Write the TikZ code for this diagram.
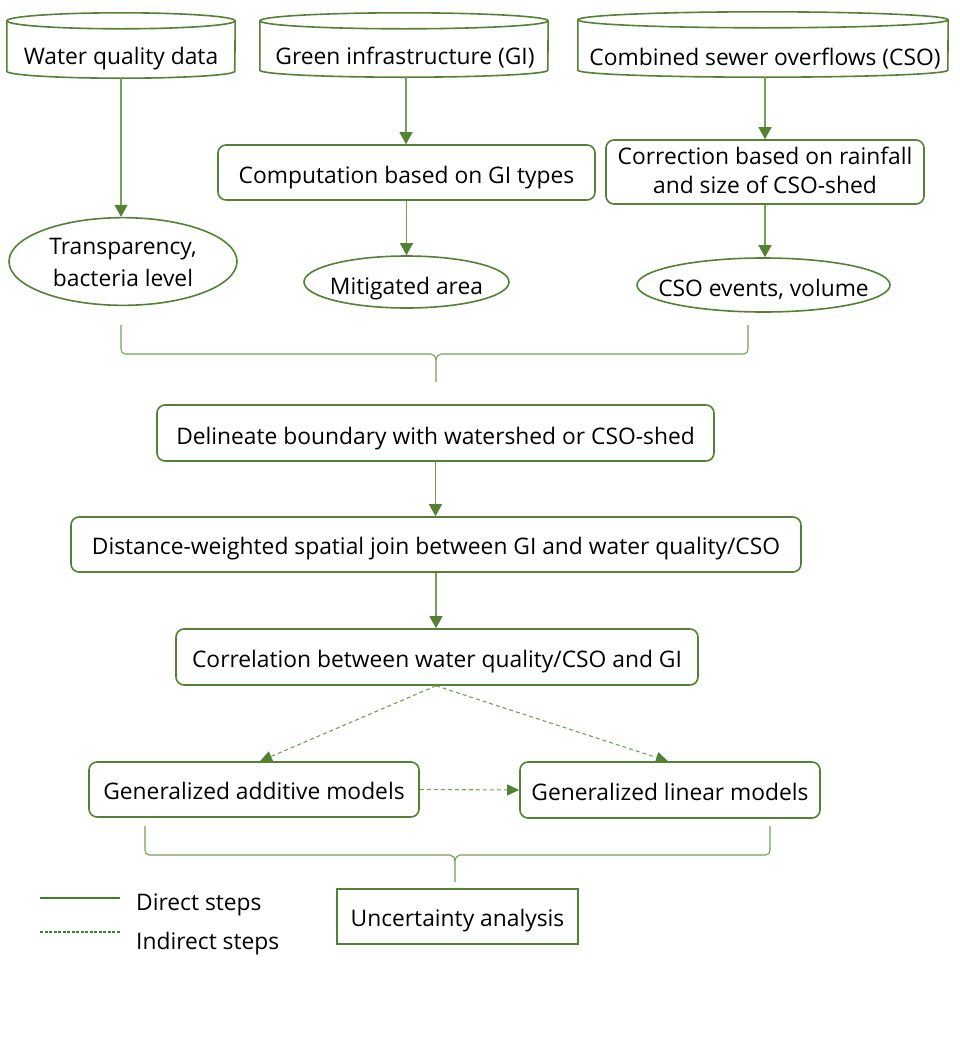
\documentclass[tikz,border=0pt]{standalone}
\usepackage{fontspec}
\setmainfont{Open Sans}
\usetikzlibrary{arrows.meta,shapes.geometric}
\definecolor{boxgreen}{RGB}{84,130,53}
\definecolor{linegreen}{RGB}{118,160,88}
\definecolor{leggreen}{RGB}{60,130,40}
\tikzset{
  txt/.style={font=\fontsize{22.8}{30}\selectfont, text=black, inner sep=0pt},
  rbox/.style={txt, draw=boxgreen, line width=1.6pt, rounded corners=8pt},
  sbox/.style={txt, draw=boxgreen, line width=1.6pt},
  ebox/.style={txt, draw=boxgreen, line width=1.6pt, ellipse},
  cylline/.style={draw=boxgreen, line width=1.6pt},
  conn/.style={draw=linegreen, line width=1.1pt, -{Triangle[width=13pt,length=12pt,color=boxgreen]}},
  dconn/.style={draw=linegreen, line width=1.1pt, dash pattern=on 4pt off 3pt, -{Triangle[width=11pt,length=12pt,color=boxgreen]}},
  brace/.style={draw=linegreen, line width=1.1pt},
}
\newcommand\tx[2][-4pt]{\raisebox{#1}[\height][\depth]{\begin{tabular}{@{}c@{}}#2\end{tabular}}}
\newcommand\cylshape[2]{%
  \draw[cylline] ([yshift=-8pt]#1.north west) -- ([yshift=7pt]#1.south west)
     arc[start angle=180, end angle=360, x radius=#2, y radius=7pt] -- ([yshift=-8pt]#1.north east);
  \draw[cylline] ([yshift=-8pt]#1.north) ellipse[x radius=#2, y radius=8pt];
}
\begin{document}
\begin{tikzpicture}[x=1pt,y=1pt]
\useasboundingbox (0,0) rectangle (960,-1050);
\fill[white] (0,0) rectangle (960,-1050);

% cylinders
\node[minimum width=228pt, minimum height=65pt, inner sep=0pt] (wq) at (121,-45.5) {};
\node[txt] (wqt) at (121,-55) {\tx[-3pt]{Water quality data}};
\cylshape{wq}{114pt}
\node[minimum width=288pt, minimum height=64pt, inner sep=0pt] (gi) at (404,-45) {};
\node[txt] (git) at (405,-55) {\tx[-3pt]{Green infrastructure (GI)}};
\cylshape{gi}{144pt}
\node[minimum width=370pt, minimum height=65pt, inner sep=0pt] (cso) at (763,-44.5) {};
\node[txt] (csot) at (765,-56) {\tx[-3pt]{Combined sewer overflows (CSO)}};
\cylshape{cso}{185pt}

% second row
\node[rbox, minimum width=377pt, minimum height=55pt] (comp) at (406.5,-172.5) {\tx[-5pt]{Computation based on GI types}};
\node[rbox, minimum width=318pt, minimum height=64pt] (corr) at (765,-172) {\tx[-1pt]{Correction based on rainfall\\[-1pt]and size of CSO-shed}};

% ellipses
\node[ebox, minimum width=228pt, minimum height=87pt] (tr) at (123,-261.5) {\makebox[0pt]{\tx[-3pt]{Transparency,\\[2pt]bacteria level}}};
\node[ebox, minimum width=205pt, minimum height=52pt] (mit) at (406.5,-282) {\makebox[0pt]{\tx[-6pt]{Mitigated area}}};
\node[ebox, minimum width=253pt, minimum height=54pt] (ev) at (763.5,-285) {\makebox[0pt]{\tx[-5pt]{CSO events, volume}}};

% main chain
\node[rbox, minimum width=557pt, minimum height=56pt] (del) at (435.5,-433) {\tx[-5pt]{Delineate boundary with watershed or CSO-shed}};
\node[rbox, minimum width=730pt, minimum height=55pt] (dist) at (436,-544.5) {\tx{Distance-weighted spatial join between GI and water quality/CSO}};
\node[rbox, minimum width=522pt, minimum height=56pt] (cor) at (437,-657) {\tx{Correlation between water quality/CSO and GI}};
\node[rbox, minimum width=330pt, minimum height=55pt] (gam) at (254,-789.5) {\tx{Generalized additive models}};
\node[rbox, minimum width=300pt, minimum height=56pt] (glm) at (670,-790) {\tx{Generalized linear models}};
\node[sbox, minimum width=241pt, minimum height=55pt] (unc) at (457.5,-916.5) {\tx{Uncertainty analysis}};

% connectors
\draw[conn] (wq.south) -- (wq.south |- tr.north);
\draw[conn] ([xshift=2pt]gi.south) -- ([xshift=2pt]gi.south |- comp.north);
\draw[conn] (comp.south) -- (mit.north);
\draw[conn] ([xshift=2pt]cso.south) -- ([xshift=2pt]cso.south |- corr.north);
\draw[conn] (corr.south) -- (corr.south |- ev.north);
\draw[conn] (del.south) -- (del.south |- dist.north);
\draw[conn] (dist.south) -- (dist.south |- cor.north);
\draw[dconn] ([xshift=-1pt]cor.south) -- ([xshift=6pt]gam.north);
\draw[dconn] ([xshift=-1pt]cor.south) -- ([xshift=-2pt]glm.north);
\draw[dconn] (gam.east) -- (glm.west);

% braces
\coordinate (b1l) at (121,-325);
\coordinate (b1r) at (748,-325);
\coordinate (b1t) at (436,-382);
\draw[brace] (b1l) -- ++(0,-24) to[out=-90,in=180] ++(4,-5) -- ([xshift=-5pt]b1t |- 0,-354)
   to[out=0,in=90] ([yshift=-352pt+382pt-8pt]b1t) -- (b1t);
\draw[brace] (b1r) -- ++(0,-24) to[out=-90,in=0] ++(-4,-5) -- ([xshift=5pt]b1t |- 0,-354)
   to[out=180,in=90] ([yshift=-352pt+382pt-8pt]b1t);
\coordinate (b2l) at (145,-826);
\coordinate (b2r) at (770,-826);
\coordinate (b2t) at (455,-882);
\draw[brace] (b2l) -- ++(0,-24) to[out=-90,in=180] ++(4,-5) -- ([xshift=-5pt]b2t |- 0,-855)
   to[out=0,in=90] ([yshift=-853pt+882pt-8pt]b2t) -- (b2t);
\draw[brace] (b2r) -- ++(0,-24) to[out=-90,in=0] ++(-4,-5) -- ([xshift=5pt]b2t |- 0,-855)
   to[out=180,in=90] ([yshift=-853pt+882pt-8pt]b2t);

% legend
\coordinate (l1a) at (40,-898);
\coordinate (l1b) at (120,-898);
\coordinate (l2a) at (40,-932);
\coordinate (l2b) at (120,-932);
\draw[leggreen, line width=1.3pt] (l1a) -- (l1b);
\draw[leggreen, line width=1.1pt, dash pattern=on 3pt off 1.5pt] (l2a) -- (l2b);
\node[txt, anchor=west] (ld) at (136,-901) {\tx[-3pt]{Direct steps}};
\node[txt, anchor=west] (li) at (136,-940) {\tx[-3pt]{Indirect steps}};
\end{tikzpicture}
\end{document}
